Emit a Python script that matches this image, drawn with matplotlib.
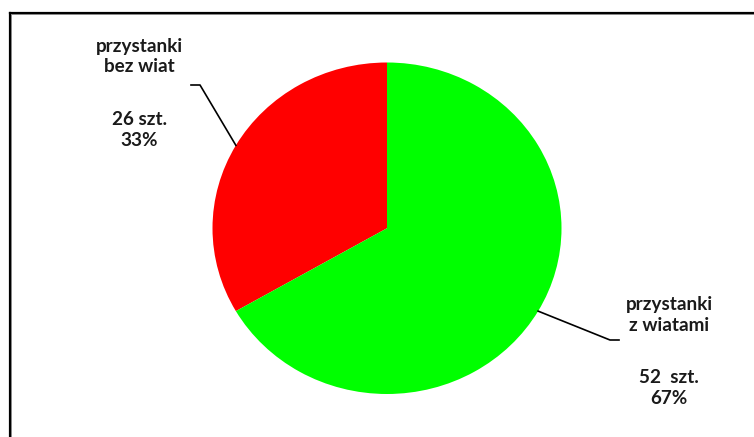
import numpy as np
import matplotlib.pyplot as plt
from matplotlib.lines import Line2D

W, H = 754, 437

categories = ["przystanki\nbez wiat", "przystanki\nz wiatami"]
counts = [26, 52]
count_labels = ["26 szt.", "52  szt."]
colors = ["#ff0000", "#00ff00"]

plt.rcParams['font.family'] = ['Lato', 'DejaVu Sans']


def fig_xy(x, y):
    # pixel coords (origin top-left) -> figure fraction
    return x / W, 1 - y / H


fig = plt.figure(figsize=(W / 100, H / 100), dpi=100)
fig.patch.set_facecolor("white")

# pie axes spans the (slightly stretched) ellipse
left, top, right, bottom = 212.5, 62.5, 561.5, 394
ax = fig.add_axes([left / W, 1 - bottom / H, (right - left) / W, (bottom - top) / H])
wedges, _ = ax.pie(counts, colors=colors, startangle=90, counterclock=True,
                   wedgeprops=dict(linewidth=0))
ax.set_aspect("auto")
ax.set_xlim(-1, 1)
ax.set_ylim(-1, 1)
ax.axis("off")

total = sum(counts)
pcts = [round(100 * c / total) for c in counts]

# label placement: (text centre x, block centre y, elbow, end of leader)
label_pos = [
    dict(x=139, y_name=56.5, y_val=130, elbow=(200, 85), end=(191, 85)),
    dict(x=669, y_name=315, y_val=388, elbow=(610, 340), end=(619, 340)),
]

txt = dict(ha="center", va="center", fontsize=13.6, fontweight="bold",
           linespacing=1.27, color="#1a1a1a")

to_fig = fig.transFigure.inverted()
for w, cat, cl, pct, pos in zip(wedges, categories, count_labels, pcts, label_pos):
    mid = np.deg2rad((w.theta1 + w.theta2) / 2)
    anchor = to_fig.transform(ax.transData.transform((np.cos(mid), np.sin(mid))))
    ex, ey = fig_xy(*pos["elbow"])
    tx, ty = fig_xy(*pos["end"])
    fig.add_artist(Line2D([anchor[0], ex, tx], [anchor[1], ey, ty],
                          color="black", lw=1.2, transform=fig.transFigure))
    fig.text(*fig_xy(pos["x"], pos["y_name"]), cat, **txt)
    fig.text(*fig_xy(pos["x"], pos["y_val"]), f"{cl}\n{pct}%", **txt)

# chart frame (only top and left edges fall inside the image)
for xs, ys, c, lw in [
    ([9.5, 9.5], [H, 12.5], "black", 2.2),
    ([11, 11], [H, 14], "#888888", 1.0),
    ([9.5, W], [12.5, 12.5], "black", 2.2),
    ([11, W], [14, 14], "#888888", 1.0),
]:
    fx = [x / W for x in xs]
    fy = [1 - y / H for y in ys]
    fig.add_artist(Line2D(fx, fy, color=c, lw=lw * 0.72, transform=fig.transFigure))

fig.savefig("out.png", dpi=100)
